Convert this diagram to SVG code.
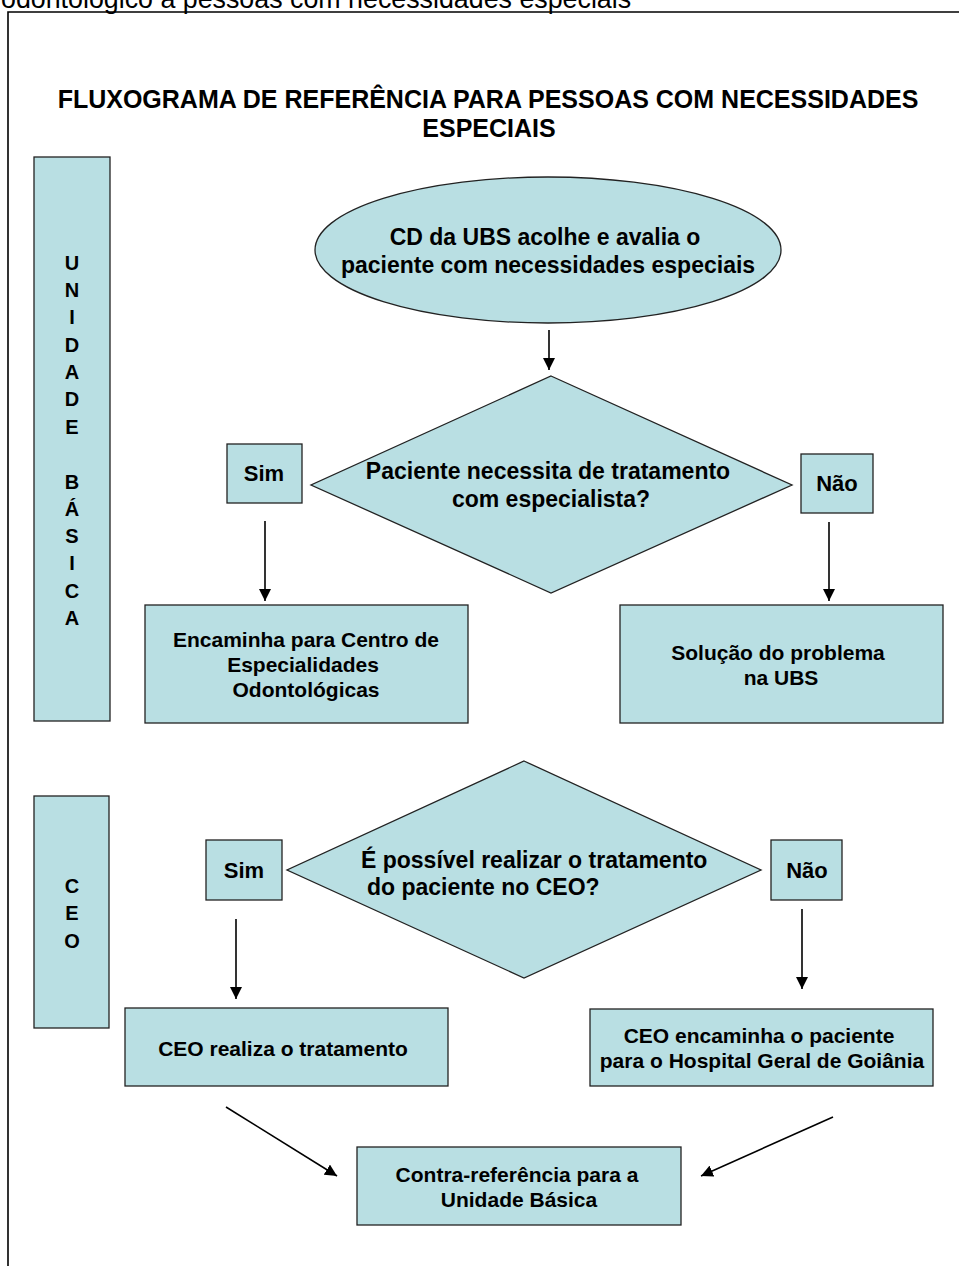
<svg xmlns="http://www.w3.org/2000/svg" width="959" height="1266" viewBox="0 0 959 1266">
<defs>
<style>
.n{fill:#b9dfe3;stroke:#222;stroke-width:1.3}
.t{font-family:"Liberation Sans",Arial,sans-serif;font-weight:bold;fill:#000;text-anchor:middle}
.s21{font-size:21px}
.s22{font-size:22px}
.s23{font-size:23px}
.lane{font-family:"Liberation Sans",Arial,sans-serif;font-weight:bold;font-size:20px;text-anchor:middle}
.c{stroke:#000;stroke-width:1.6;fill:none;marker-end:url(#ah)}
</style>
<marker id="ah" markerUnits="userSpaceOnUse" markerWidth="12" markerHeight="12" viewBox="0 0 12 12" refX="12" refY="6" orient="auto">
<path d="M0,0 L12,6 L0,12 z" fill="#000"/>
</marker>
</defs>
<rect width="959" height="1266" fill="#fff"/>
<text x="1" y="8" font-family="Liberation Sans,Arial,sans-serif" font-size="26.8">odontológico a pessoas com necessidades especiais</text>
<path d="M8,1266 V12 H959" fill="none" stroke="#000" stroke-width="1.6"/>
<g id="title">
<text class="t" x="488" y="108" font-size="25">FLUXOGRAMA DE REFERÊNCIA PARA PESSOAS COM NECESSIDADES</text>
<text class="t" x="489" y="137" font-size="25">ESPECIAIS</text>
</g>
<g id="lane-ubs">
<rect class="n" x="34" y="157" width="76" height="564"/>
<text class="lane" x="72"><tspan x="72" y="270">U</tspan><tspan x="72" y="297">N</tspan><tspan x="72" y="324">I</tspan><tspan x="72" y="352">D</tspan><tspan x="72" y="379">A</tspan><tspan x="72" y="406">D</tspan><tspan x="72" y="434">E</tspan><tspan x="72" y="489">B</tspan><tspan x="72" y="516">Á</tspan><tspan x="72" y="543">S</tspan><tspan x="72" y="570">I</tspan><tspan x="72" y="598">C</tspan><tspan x="72" y="625">A</tspan></text>
</g>
<g id="lane-ceo">
<rect class="n" x="34" y="796" width="75" height="232"/>
<text class="lane"><tspan x="72" y="893">C</tspan><tspan x="72" y="920">E</tspan><tspan x="72" y="948">O</tspan></text>
</g>
<g id="start">
<ellipse class="n" cx="548" cy="250" rx="233" ry="73"/>
<text class="t s23" x="545" y="245">CD da UBS acolhe e avalia o</text>
<text class="t s23" x="548" y="273">paciente com necessidades especiais</text>
</g>
<g id="decision1">
<polygon class="n" points="551,376 792,485 551,593 311,485"/>
<text class="t s23" x="548" y="479">Paciente necessita de tratamento</text>
<text class="t s23" x="551" y="507">com especialista?</text>
</g>
<g id="sim1">
<rect class="n" x="227" y="444" width="75" height="59"/>
<text class="t s22" x="264" y="481">Sim</text>
</g>
<g id="nao1">
<rect class="n" x="801" y="454" width="72" height="59"/>
<text class="t s22" x="837" y="491">Não</text>
</g>
<g id="encaminha">
<rect class="n" x="145" y="605" width="323" height="118"/>
<text class="t s21" x="306" y="647">Encaminha para Centro de</text>
<text class="t s21" x="303" y="672">Especialidades</text>
<text class="t s21" x="306" y="697">Odontológicas</text>
</g>
<g id="solucao">
<rect class="n" x="620" y="605" width="323" height="118"/>
<text class="t s21" x="778" y="660">Solução do problema</text>
<text class="t s21" x="781" y="685">na UBS</text>
</g>
<g id="decision2">
<polygon class="n" points="524,761 761,870 524,978 287,870"/>
<text class="t s23" x="361" y="868" style="text-anchor:start">É possível realizar o tratamento</text>
<text class="t s23" x="367" y="895" style="text-anchor:start">do paciente no CEO?</text>
</g>
<g id="sim2">
<rect class="n" x="206" y="840" width="76" height="60"/>
<text class="t s22" x="244" y="878">Sim</text>
</g>
<g id="nao2">
<rect class="n" x="771" y="840" width="71" height="60"/>
<text class="t s22" x="807" y="878">Não</text>
</g>
<g id="ceo-realiza">
<rect class="n" x="125" y="1008" width="323" height="78"/>
<text class="t s21" x="283" y="1056">CEO realiza o tratamento</text>
</g>
<g id="ceo-encaminha">
<rect class="n" x="590" y="1009" width="343" height="77"/>
<text class="t s21" x="759" y="1043">CEO encaminha o paciente</text>
<text class="t s21" x="762" y="1068">para o Hospital Geral de Goiânia</text>
</g>
<g id="contra">
<rect class="n" x="357" y="1147" width="324" height="78"/>
<text class="t s21" x="517" y="1182">Contra-referência para a</text>
<text class="t s21" x="519" y="1207">Unidade Básica</text>
</g>
<g id="connectors">
<line class="c" x1="549" y1="330" x2="549" y2="370"/>
<line class="c" x1="265" y1="521" x2="265" y2="601"/>
<line class="c" x1="829" y1="522" x2="829" y2="601"/>
<line class="c" x1="236" y1="919" x2="236" y2="999"/>
<line class="c" x1="802" y1="909" x2="802" y2="989"/>
<line class="c" x1="226" y1="1107" x2="337" y2="1176"/>
<line class="c" x1="833" y1="1117" x2="701" y2="1176"/>
</g>
</svg>
